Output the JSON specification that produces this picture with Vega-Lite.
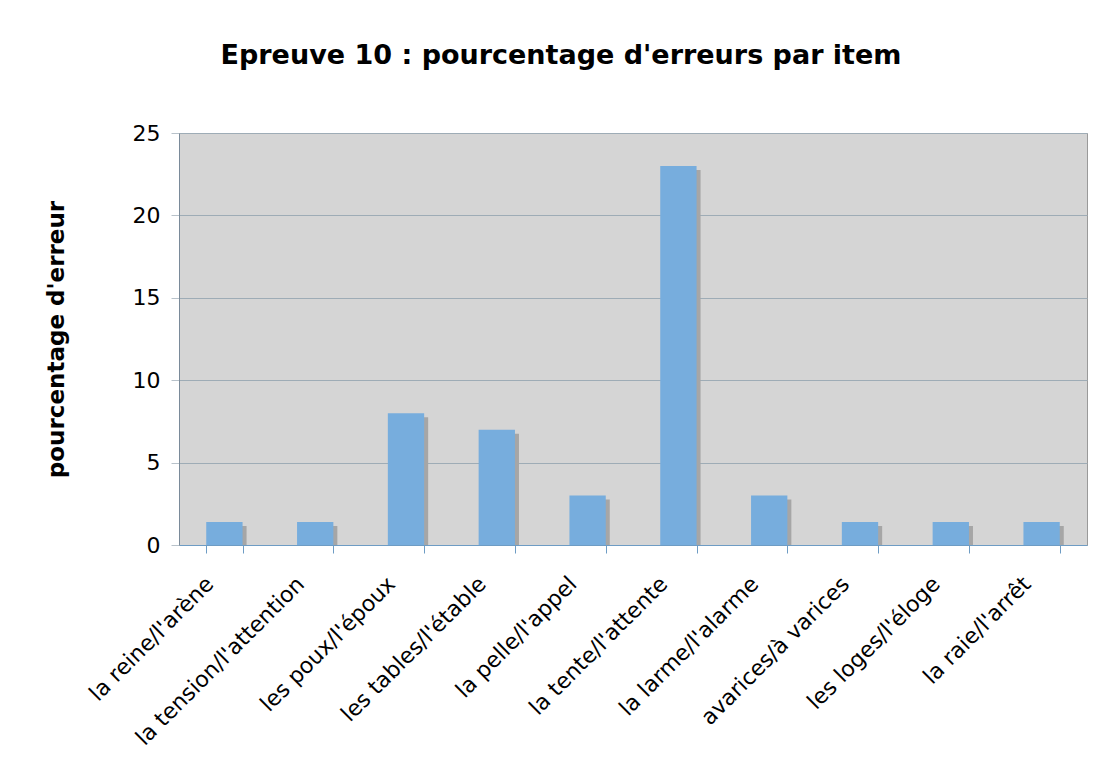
{
  "$schema": "https://vega.github.io/schema/vega-lite/v6.json",
  "width": 908,
  "height": 412,
  "autosize": {"type": "none"},
  "padding": {"left": 179, "top": 133, "right": 17, "bottom": 235},
  "background": "white",
  "title": {
    "text": "Epreuve 10 : pourcentage d'erreurs par item",
    "font": "DejaVu Sans",
    "fontSize": 27,
    "fontWeight": "bold",
    "color": "black",
    "anchor": "middle",
    "frame": "group",
    "dx": -72,
    "offset": 52
  },
  "data": {
    "values": [
      {"item": "la reine/l'arène", "pct": 1.4},
      {"item": "la tension/l'attention", "pct": 1.4},
      {"item": "les poux/l'époux", "pct": 8},
      {"item": "les tables/l'étable", "pct": 7},
      {"item": "la pelle/l'appel", "pct": 3},
      {"item": "la tente/l'attente", "pct": 23},
      {"item": "la larme/l'alarme", "pct": 3},
      {"item": "avarices/à varices", "pct": 1.4},
      {"item": "les loges/l'éloge", "pct": 1.4},
      {"item": "la raie/l'arrêt", "pct": 1.4}
    ]
  },
  "encoding": {
    "x": {
      "field": "item",
      "type": "nominal",
      "sort": null,
      "scale": {"paddingInner": 0.6, "paddingOuter": 0.3},
      "axis": {
        "title": null,
        "labelAngle": -45,
        "labelFont": "DejaVu Sans",
        "labelFontSize": 22,
        "labelColor": "black",
        "labelPadding": 20,
        "labelOffset": -22,
        "labelLimit": 0,
        "labelOverlap": false,
        "tickBand": "extent",
        "tickColor": "#6E9CC4",
        "tickSize": 8,
        "domainColor": "#6E9CC4",
        "grid": false
      }
    },
    "y": {
      "field": "pct",
      "type": "quantitative",
      "scale": {"domain": [0, 25], "nice": false},
      "axis": {
        "values": [0, 5, 10, 15, 20, 25],
        "grid": true,
        "gridColor": "#9EACB6",
        "tickColor": "#B8C2CA",
        "tickSize": 8,
        "domainColor": "#7A8A99",
        "labelFont": "DejaVu Sans",
        "labelFontSize": 22,
        "labelColor": "black",
        "labelPadding": 11,
        "title": "pourcentage d'erreur",
        "titleFont": "DejaVu Sans",
        "titleFontSize": 23,
        "titleFontWeight": "bold",
        "titleColor": "black",
        "titlePadding": 64
      }
    }
  },
  "layer": [
    {"mark": {"type": "bar", "color": "#A6A6A6", "xOffset": 4, "yOffset": 4, "clip": true}},
    {"mark": {"type": "bar", "color": "#77ADDD"}}
  ],
  "config": {
    "view": {"fill": "#D5D5D5", "stroke": "#9A9A9A"}
  }
}
